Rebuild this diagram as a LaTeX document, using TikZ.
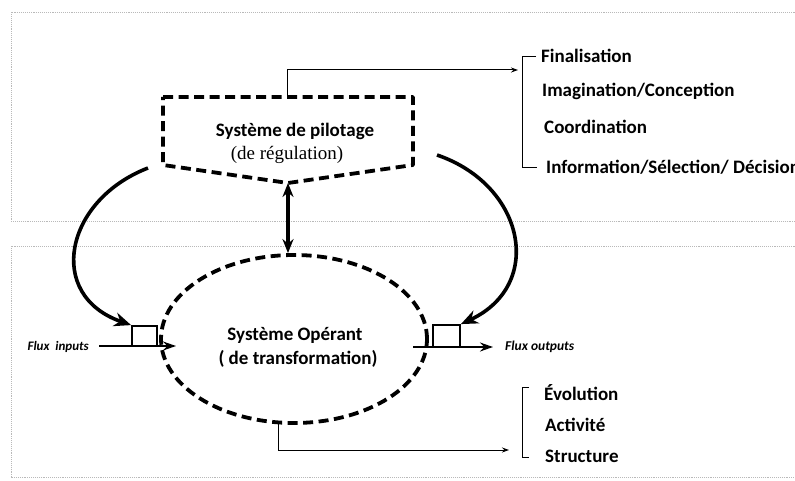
\documentclass[tikz,border=0pt]{standalone}
\usepackage{fontspec}
\setmainfont{Carlito}
\newfontfamily\serifrm{Liberation Serif}
\usetikzlibrary{arrows.meta,shapes.geometric}

\begin{document}
\begin{tikzpicture}[x=1pt,y=-1pt,
  frame/.style={gray!55, densely dotted, line width=0.9pt},
  thickdash/.style={line width=3.8pt, dash pattern=on 10pt off 5.5pt, line join=round},
  bigarrow/.style={line width=3.6pt, -{Stealth[length=17pt,width=14pt]}},
  dblarrow/.style={line width=3.2pt, {Stealth[length=14pt,width=11pt]}-{Stealth[length=14pt,width=11pt]}},
  flowarrow/.style={line width=1.8pt, -{Stealth[length=13pt,width=9pt]}},
  thinarrow/.style={line width=1pt, -{Stealth[length=7pt,width=5pt]}},
  bracket/.style={line width=1pt},
  bigtext/.style={inner sep=0pt, font=\fontsize{19}{21}\selectfont\bfseries},
  item/.style={bigtext, anchor=west},
  flux/.style={inner sep=0pt, font=\fontsize{13}{15}\selectfont\bfseries\itshape},
  gate/.style={draw, line width=1.8pt}]

  % page and clipping
  \useasboundingbox (0,0) rectangle (795,481);
  \fill[white] (0,0) rectangle (795,481);
  \clip (0,0) rectangle (795,481);

  % dotted frames of the two levels
  \draw[frame] (820,12) -- (11,12) -- (11,221) -- (820,221);
  \draw[frame] (820,246) -- (11,246) -- (11,477) -- (820,477);

  % steering system (pentagon)
  \coordinate (p1) at (163,97);
  \coordinate (p2) at (413,97);
  \coordinate (p3) at (413,165);
  \coordinate (p4) at (288,183);
  \coordinate (p5) at (163,165);
  \draw[thickdash] (p1) -- (p2) -- (p3) -- (p4) -- (p5) -- cycle;
  \node[bigtext] (pil) at (295,131) {Système de pilotage};
  \node[inner sep=0pt, font=\fontsize{19}{21}\serifrm] (reg) at (287,155) {(de régulation)};

  % operating system (ellipse)
  \node[ellipse, draw, thickdash, minimum width=266pt, minimum height=168pt, inner sep=0pt] (op) at (294,339) {};
  \node[bigtext] (opt1) at (295,335) {Système Opérant};
  \node[bigtext] (opt2) at (298,359) {( de transformation)};

  % two-way link between the systems
  \draw[dblarrow] (p4) -- (op.north -| p4);

  % input and output gates
  \node[gate, minimum width=25pt, minimum height=20pt, inner sep=0pt] (gin) at (144.5,336) {};
  \node[gate, minimum width=27pt, minimum height=22pt, inner sep=0pt] (gout) at (446.5,336) {};

  \node[flux, anchor=east] (fin) at (89,347) {Flux\ \ inputs};
  \node[flux, anchor=west, font=\fontsize{13.5}{15}\selectfont\bfseries\itshape] (fout) at (505,347) {Flux outputs};
  \coordinate (inEnd) at (176,346);
  \coordinate (outStart) at (413,347);
  \draw[flowarrow] (fin.east) ++(10,-1) coordinate (inStart) -- (inEnd);
  \draw[flowarrow] (outStart) -- (493,347) coordinate (outEnd);

  % regulation loops
  \coordinate (lstart) at (148,168);
  \coordinate (rstart) at (437,155);
  \draw[bigarrow] (lstart) .. controls (65,200) and (45,295) .. (gin.north west);
  \draw[bigarrow] (rstart) .. controls (525,185) and (545,285) .. (gout.north east);

  % upper list of functions
  \coordinate (ptop) at (287,97);
  \coordinate (brk1) at (518,70);
  \draw[thinarrow] (ptop) |- (brk1);
  \draw[bracket] (536,57) -- (522,57) -- (522,168) -- (537,168);
  \node[item] (f1) at (541,56) {Finalisation};
  \node[item] (f2) at (542,91) {Imagination/Conception};
  \node[item] (f3) at (544,127) {Coordination};
  \node[item] (f4) at (546,167) {Information/Sélection/ Décision};

  % lower list of aspects
  \coordinate (obot) at (278,423);
  \coordinate (brk2) at (509,450);
  \draw[thinarrow] (obot) |- (brk2);
  \draw[bracket] (529,387) -- (522,387) -- (522,457) -- (529,457);
  \node[item] (a1) at (544,393) {Évolution};
  \node[item] (a2) at (545,425) {Activité};
  \node[item] (a3) at (545,456) {Structure};
\end{tikzpicture}
\end{document}
